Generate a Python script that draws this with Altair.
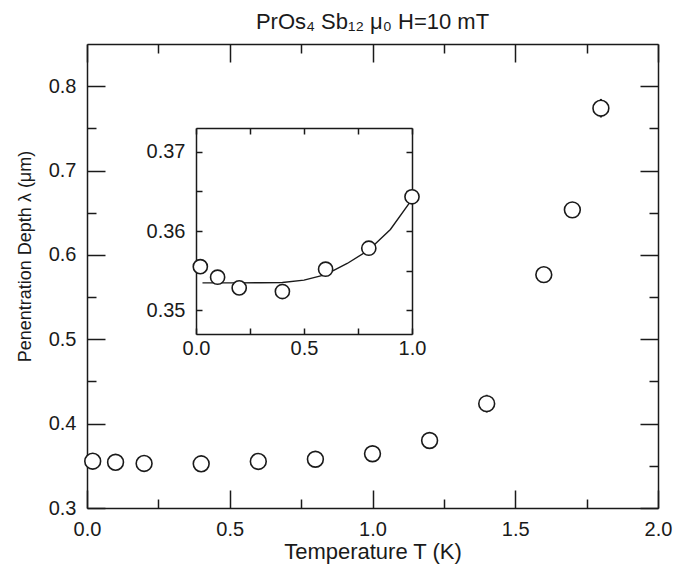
import altair as alt
import pandas as pd

# ---- data ----
T_main = [0.02, 0.1, 0.2, 0.4, 0.6, 0.8, 1.0, 1.2, 1.4, 1.6, 1.7, 1.8]
lam_main = [0.3555, 0.3542, 0.3528, 0.3524, 0.3552, 0.3578, 0.3643, 0.380, 0.4237, 0.5766, 0.6534, 0.7739]
err_main = [0, 0, 0, 0, 0, 0, 0, 0, 0.0105, 0, 0, 0.011]

T_inset = [0.02, 0.1, 0.2, 0.4, 0.6, 0.8, 1.0]
lam_inset = [0.3555, 0.35417, 0.35282, 0.35236, 0.35518, 0.35783, 0.36432]

T_fit = [0.03, 0.1, 0.2, 0.3, 0.4, 0.5, 0.6, 0.7, 0.8, 0.9, 1.0]
lam_fit = [0.35345, 0.35345, 0.35345, 0.35347, 0.3535, 0.3538, 0.3545, 0.3559, 0.3576, 0.3602, 0.3640]

x_major = [0.0, 0.5, 1.0, 1.5, 2.0]
x_minor = [0.25, 0.75, 1.25, 1.75]
y_major = [0.3, 0.4, 0.5, 0.6, 0.7, 0.8]
y_minor = [0.35, 0.45, 0.55, 0.65, 0.75]
xi_ticks = [0.0, 0.25, 0.5, 0.75, 1.0]
yi_ticks = [0.35, 0.355, 0.36, 0.365, 0.37]

title_text = "PrOs₄ Sb₁₂ μ₀ H=10 mT"
x_title = "Temperature T (K)"
y_title = "Penentration Depth λ (μm)"

FONT = "Liberation Sans"
INK = "#1a1a1a"
W, H = 571, 464

main_df = pd.DataFrame({"T": T_main, "lam": lam_main, "err": err_main})
inset_df = pd.DataFrame({"T": T_inset, "lam": lam_inset})
fit_df = pd.DataFrame({"T": T_fit, "lam": lam_fit})

xs = alt.Scale(domain=[0, 2], nice=False, zero=False)
ys = alt.Scale(domain=[0.3, 0.85], nice=False, zero=False)
xis = alt.Scale(domain=[0, 1], nice=False, zero=False, range=[109, 325])
yis = alt.Scale(domain=[0.347, 0.373], nice=False, zero=False, range=[290, 84])

common = dict(domainColor=INK, tickColor=INK, domainWidth=1.5, tickWidth=1.5,
              labelFont=FONT, labelColor=INK, titleFont=FONT, titleColor=INK,
              grid=False, labelOverlap=False, labelFlush=False)


def ax(orient, values, size, labels=False, domain=True, title=None, fmt=None,
       offset=0, labelExpr=None, labelSize=20, pad=11, extra=None):
    kw = dict(common)
    kw.update(orient=orient, values=values, tickSize={"expr": str(-size)},
              labels=labels, domain=domain, offset=offset,
              labelFontSize=labelSize, labelPadding=pad + size)
    if title is not None:
        kw.update(title=title, titleFontWeight="normal")
    else:
        kw.update(title=None)
    if fmt is not None:
        kw.update(format=fmt)
    if labelExpr is not None:
        kw.update(labelExpr=labelExpr)
    if extra:
        kw.update(extra)
    return alt.Axis(**kw)


base_main = alt.Chart(main_df)

pts_main = base_main.mark_point(shape="circle", filled=False, fill="white", fillOpacity=1,
                                stroke=INK, strokeWidth=1.6, size=250, opacity=1).encode(
    x=alt.X("T:Q", scale=xs, axis=ax("bottom", x_major, 18, labels=True, title=x_title, fmt=".1f",
                                     extra=dict(titlePadding=2, titleFontSize=22))),
    y=alt.Y("lam:Q", scale=ys, axis=ax("left", y_major, 18, labels=True, title=y_title, fmt=".1f",
                                       extra=dict(titleX=-57, titleY=212, titleAngle=-90, titleFontSize=18,
                                                  titleAlign="center", titleBaseline="alphabetic"))),
)

err_main_layer = base_main.transform_filter("datum.err > 0").transform_calculate(
    lo="datum.lam - datum.err", hi="datum.lam + datum.err"
).mark_rule(color=INK, strokeWidth=2).encode(
    x=alt.X("T:Q", scale=xs, axis=None),
    y=alt.Y("lo:Q", scale=ys, axis=None),
    y2="hi:Q",
)

inv = dict(opacity=0)
frame_major = base_main.mark_point(**inv).encode(
    x=alt.X("T:Q", scale=xs, axis=ax("top", x_major, 18)),
    y=alt.Y("lam:Q", scale=ys, axis=ax("right", y_major, 18)),
)
minor_bl = base_main.mark_point(**inv).encode(
    x=alt.X("T:Q", scale=xs, axis=ax("bottom", x_minor, 9, domain=False)),
    y=alt.Y("lam:Q", scale=ys, axis=ax("left", y_minor, 9, domain=False)),
)
minor_tr = base_main.mark_point(**inv).encode(
    x=alt.X("T:Q", scale=xs, axis=ax("top", x_minor, 9, domain=False)),
    y=alt.Y("lam:Q", scale=ys, axis=ax("right", y_minor, 9, domain=False)),
)

# ---- inset ----
fit_line = alt.Chart(fit_df).mark_line(color=INK, strokeWidth=1.4).encode(
    x=alt.X("T:Q", scale=xis, axis=None),
    y=alt.Y("lam:Q", scale=yis, axis=None),
)

xi_lab = "datum.value == 0 || datum.value == 0.5 || datum.value == 1 ? format(datum.value, '.1f') : ''"
yi_lab = "abs(datum.value*100 - round(datum.value*100)) < 0.01 ? format(datum.value, '.2f') : ''"

pts_inset = alt.Chart(inset_df).mark_point(shape="circle", filled=False, fill="white", fillOpacity=1,
                                           stroke=INK, strokeWidth=1.6, size=200, opacity=1).encode(
    x=alt.X("T:Q", scale=xis, axis=ax("bottom", xi_ticks, 6, labels=True, offset=-(H - 290),
                                      labelExpr=xi_lab, pad=4)),
    y=alt.Y("lam:Q", scale=yis, axis=ax("left", yi_ticks, 6, labels=True, offset=-109, labelExpr=yi_lab)),
)

inset_frame = alt.Chart(inset_df).mark_point(**inv).encode(
    x=alt.X("T:Q", scale=xis, axis=ax("top", xi_ticks, 6, offset=-84)),
    y=alt.Y("lam:Q", scale=yis, axis=ax("right", yi_ticks, 6, offset=-(W - 325))),
)

chart = alt.layer(
    minor_bl, minor_tr, frame_major, err_main_layer, pts_main,
    fit_line, inset_frame, pts_inset,
).resolve_scale(x="independent", y="independent").resolve_axis(x="independent", y="independent").properties(
    width=W, height=H,
    autosize=alt.AutoSizeParams(type="none"),
    padding={"left": 79, "top": 36, "right": 25, "bottom": 58},
    title=alt.TitleParams(title_text, font=FONT, fontSize=22, fontWeight="normal", color=INK,
                          anchor="middle", offset=9),
).configure_view(stroke=None)

chart.save("out.html", embed_options={"renderer": "svg", "actions": False})
